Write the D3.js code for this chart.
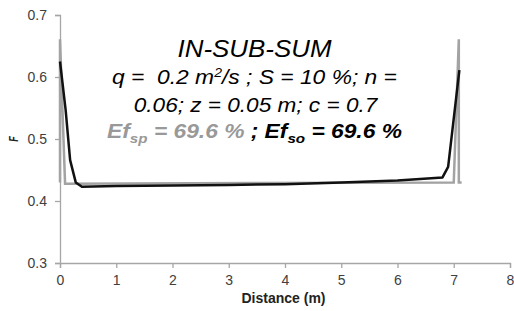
<!DOCTYPE html>
<html>
<head>
<meta charset="utf-8">
<script src="https://cdn.jsdelivr.net/npm/d3@7"></script>
<style>
  body { margin: 0; background: #fff; }
  svg { display: block; font-family: "Liberation Sans", Arial, sans-serif; }
</style>
</head>
<body>
<svg id="chart" width="514" height="311"></svg>
<script>
// data
var xTicks = [0, 1, 2, 3, 4, 5, 6, 7, 8];
var yTicks = [0.3, 0.4, 0.5, 0.6, 0.7];

// Ef_sp series (grey)
var spX = [0, 0, 0.09, 7.0, 7.09, 7.09, 7.14];
var spY = [0.43, 0.661, 0.428, 0.43, 0.661, 0.43, 0.43];

// Ef_so series (black)
var soX = [0, 0.1, 0.18, 0.28, 0.39, 1, 2, 3, 4, 5, 6, 6.8, 6.9, 7.1];
var soY = [0.625, 0.547, 0.466, 0.43, 0.423, 0.424, 0.425, 0.426, 0.427, 0.43, 0.433, 0.438, 0.455, 0.611];

var svg = d3.select("#chart");

var x = d3.scaleLinear().domain([0, 8]).range([60, 510]);
var y = d3.scaleLinear().domain([0.3, 0.7]).range([263, 15]);

var axisColor = "#a6a6a6";

//AXES
var xAxis = svg.append("g")
  .attr("transform", "translate(0,263)")
  .call(d3.axisBottom(x).tickValues(xTicks).tickSize(5).tickPadding(7).tickFormat(d3.format("d")));

var yAxis = svg.append("g")
  .attr("transform", "translate(60,0)")
  .call(d3.axisLeft(y).tickValues(yTicks).tickSize(5).tickPadding(8).tickFormat(d3.format(".1f")));

[xAxis, yAxis].forEach(function(a){
  a.select(".domain").attr("stroke", axisColor).attr("stroke-width", 1.3);
  a.selectAll(".tick line").attr("stroke", axisColor).attr("stroke-width", 1.3);
  a.selectAll(".tick text")
    .attr("fill", "#404040")
    .style("font-size", "14px")
    .style("font-family", "'Liberation Sans', Arial, sans-serif");
});

//LINES
var line = d3.line().x(d => x(d[0])).y(d => y(d[1]));

svg.append("path")
  .datum(spX.map((v, i) => [v, spY[i]]))
  .attr("d", line)
  .attr("fill", "none")
  .attr("stroke", "#a3a3a3")
  .attr("stroke-width", 2.5);

svg.append("path")
  .datum(soX.map((v, i) => [v, soY[i]]))
  .attr("d", line)
  .attr("fill", "none")
  .attr("stroke", "#111")
  .attr("stroke-width", 2.5)
  .attr("stroke-linejoin", "round");

//LABELS
svg.append("text")
  .attr("x", 283.5).attr("y", 303)
  .attr("text-anchor", "middle")
  .style("font-size", "14px").style("font-weight", "bold")
  .attr("fill", "#222")
  .text("Distance (m)");

svg.append("text")
  .attr("transform", "translate(18,139) scale(1.5,1) rotate(-90)")
  .attr("text-anchor", "middle")
  .style("font-size", "9px").style("font-weight", "bold").style("font-style", "italic")
  .attr("fill", "#222")
  .text("F");

//ANNOTATION
// picture is stretched sideways, so each line is squeezed to the width it has there
function fitLine(sel, cx, cy, width){
  let w = sel.node().getBBox().width;
  sel.attr("x", null).attr("y", null)
    .attr("transform", "translate(" + cx + "," + cy + ") scale(" + (width / w) + ",1)");
}

var ann = svg.append("g").style("font-style", "italic").attr("fill", "#000");

var l1 = ann.append("text").attr("text-anchor", "middle")
  .style("font-size", "23px").text("IN-SUB-SUM");
fitLine(l1, 254.5, 57, 155);

var l2 = ann.append("text").attr("text-anchor", "middle")
  .style("font-size", "19.5px").attr("xml:space", "preserve");
l2.append("tspan").text("q =  0.2 m");
l2.append("tspan").attr("dy", -7).style("font-size", "12px").text("2");
l2.append("tspan").attr("dy", 7).text("/s ; S = 10 %; n =");
fitLine(l2, 254.5, 84, 285);

var l3 = ann.append("text").attr("text-anchor", "middle")
  .style("font-size", "19.5px").text("0.06; z = 0.05 m; c = 0.7");
fitLine(l3, 255.5, 111.5, 245);

var l4 = ann.append("text").attr("text-anchor", "middle")
  .style("font-size", "19.5px").style("font-weight", "bold").attr("xml:space", "preserve");
l4.append("tspan").attr("fill", "#999").text("Ef");
l4.append("tspan").attr("fill", "#999").attr("dy", 5).style("font-size", "13px").text("sp");
l4.append("tspan").attr("fill", "#999").attr("dy", -5).text(" = 69.6 %");
l4.append("tspan").attr("fill", "#000").text(" ; Ef");
l4.append("tspan").attr("fill", "#000").attr("dy", 5).style("font-size", "13px").text("so");
l4.append("tspan").attr("fill", "#000").attr("dy", -5).text(" = 69.6 %");
fitLine(l4, 254.5, 138, 295);
</script>
</body>
</html>
